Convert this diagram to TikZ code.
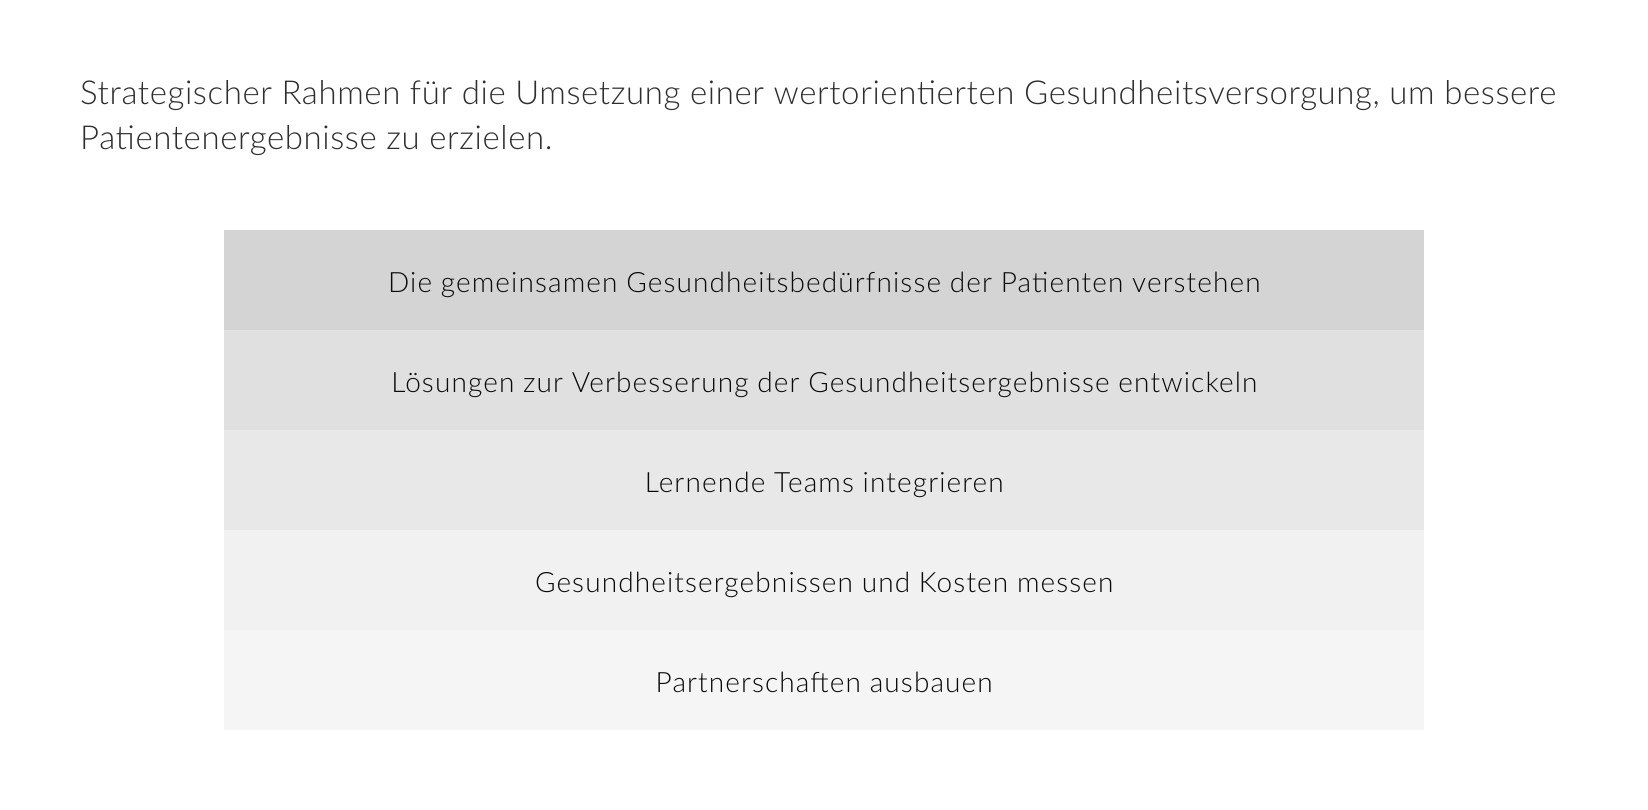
\documentclass[tikz,border=0pt]{standalone}
\usepackage{fontspec}
\setmainfont{Lato Light}
\newfontfamily\titlefont[LetterSpace=1.8]{Lato Light}
\newfontfamily\rowfont[LetterSpace=4.0]{Lato Light}
\definecolor{rowA}{HTML}{D4D4D4}
\definecolor{rowB}{HTML}{E0E0E0}
\definecolor{rowC}{HTML}{E8E8E8}
\definecolor{rowD}{HTML}{F1F1F1}
\definecolor{rowE}{HTML}{F5F5F5}
\definecolor{titlecol}{HTML}{2E2E2E}
\definecolor{rowtxt}{HTML}{0A0A0A}
\tikzset{
  rowbox/.style={minimum width=1200pt, minimum height=100pt, inner sep=0pt, anchor=north west,
    text height=24pt, text depth=0pt, text=rowtxt, font=\rowfont\fontsize{28}{32}\selectfont},
  titletext/.style={anchor=base west, inner sep=0pt, text=titlecol, font=\titlefont\fontsize{33}{45}\selectfont}
}
\begin{document}
\begin{tikzpicture}[x=1pt,y=-1pt]
\useasboundingbox[fill=white] (0,0) rectangle (1648,810);
\node[titletext] (title1) at (80,104.5) {Strategischer Rahmen für die Umsetzung einer wertorientierten Gesundheitsversorgung, um bessere};
\node[titletext] (title2) at (80,150) {Patientenergebnisse zu erzielen.};
\node[rowbox, fill=rowA] (r1) at (224,230) {Die gemeinsamen Gesundheitsbedürfnisse der Patienten verstehen};
\node[rowbox, fill=rowB] (r2) at (224,330) {Lösungen zur Verbesserung der Gesundheitsergebnisse entwickeln};
\node[rowbox, fill=rowC] (r3) at (224,430) {Lernende Teams integrieren};
\node[rowbox, fill=rowD] (r4) at (224,530) {Gesundheitsergebnissen und Kosten messen};
\node[rowbox, fill=rowE] (r5) at (224,630) {Partnerschaften ausbauen};
\end{tikzpicture}
\end{document}
